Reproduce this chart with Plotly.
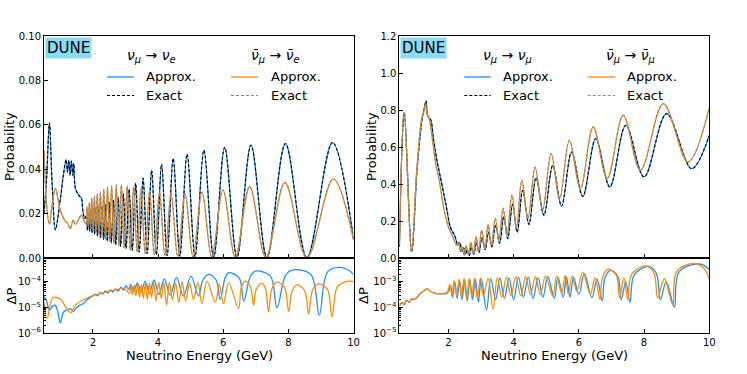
import plotly.graph_objects as go

W, H = 747, 374

# ── Values (energy in GeV) ────────────────────────────────────────────────────

# left panel: P(numu -> nue), neutrino (blue / black dashed)
nue_E = [0.5, 0.58, 0.666, 0.749, 0.85, 1.004, 1.1, 1.179, 1.219, 1.262, 1.30, 1.342,
         1.385, 1.415, 1.465, 1.569, 1.65, 1.69, 1.753, 1.800, 1.832, 1.866, 1.900,
         1.936, 1.974, 2.012, 2.053, 2.095, 2.138, 2.184, 2.231, 2.281, 2.333, 2.387,
         2.444, 2.504, 2.566, 2.632, 2.701, 2.775, 2.851, 2.933, 3.019, 3.111, 3.208,
         3.312, 3.422, 3.541, 3.667, 3.804, 3.949, 4.108, 4.279, 4.466, 4.669, 4.892,
         5.136, 5.408, 5.708, 6.046, 6.423, 6.854, 7.342, 7.911, 8.569, 9.355, 10.0]
nue_P = [0.020, 0.036, 0.0608, 0.0335, 0.0128, 0.0268, 0.038, 0.0443, 0.0387, 0.044,
         0.0373, 0.0437, 0.0373, 0.0425, 0.0313, 0.0282, 0.0268, 0.0215, 0.0177, 0.019,
         0.0125, 0.020, 0.012, 0.021, 0.0113, 0.022, 0.0107, 0.0225, 0.010, 0.023,
         0.0092, 0.0235, 0.0084, 0.024, 0.0076, 0.025, 0.0068, 0.026, 0.006, 0.0275,
         0.0052, 0.029, 0.0043, 0.031, 0.0035, 0.0337, 0.0027, 0.036, 0.002, 0.0395,
         0.0015, 0.0422, 0.0011, 0.0448, 0.0008, 0.0468, 0.0006, 0.0485, 0.0004, 0.0498,
         0.0003, 0.0508, 0.0002, 0.0515, 0.0002, 0.052, 0.0085]

# left panel: antineutrino (orange / grey dashed)
nuebar_E = [0.5, 0.595, 0.666, 0.75, 0.85, 0.973, 1.056, 1.139, 1.24, 1.311, 1.394, 1.465,
            1.548, 1.619, 1.67, 1.72, 1.789, 1.822, 1.856, 1.891, 1.928, 1.966, 2.006,
            2.047, 2.09, 2.135, 2.182, 2.231, 2.282, 2.335, 2.391, 2.45, 2.512, 2.577,
            2.646, 2.718, 2.794, 2.875, 2.96, 3.052, 3.148, 3.251, 3.36, 3.478, 3.604,
            3.74, 3.885, 4.044, 4.214, 4.401, 4.604, 4.829, 5.074, 5.348, 5.65, 5.992,
            6.373, 6.812, 7.31, 7.893, 8.569, 9.38, 10.0]
nuebar_P = [0.0485, 0.0215, 0.0152, 0.024, 0.0313, 0.023, 0.0192, 0.017, 0.0152, 0.0132,
            0.017, 0.0152, 0.017, 0.0188, 0.0192, 0.017, 0.0155, 0.023, 0.0145, 0.025,
            0.0135, 0.027, 0.0125, 0.028, 0.0115, 0.029, 0.0105, 0.030, 0.0095, 0.031,
            0.0085, 0.032, 0.0075, 0.0325, 0.0065, 0.033, 0.0055, 0.033, 0.0045, 0.0325,
            0.0035, 0.032, 0.0027, 0.031, 0.002, 0.030, 0.0015, 0.0295, 0.001, 0.029,
            0.0007, 0.029, 0.0005, 0.0297, 0.0004, 0.0307, 0.0003, 0.0322, 0.0002, 0.034,
            0.0001, 0.0356, 0.008]

# left residual, log10(|dP|)
dnue_E = [0.5, 0.58, 0.667, 0.76, 0.84, 0.93, 1.0, 1.1, 1.2, 1.3, 1.4, 1.5, 1.6, 1.71, 1.8,
          1.9, 2.0, 2.08, 2.15, 2.22, 2.3, 2.38, 2.46, 2.54, 2.62, 2.7, 2.78, 2.86, 2.94,
          3.02, 3.1, 3.16, 3.261, 3.367, 3.482, 3.604, 3.736, 3.876, 4.029, 4.193, 4.373,
          4.566, 4.78, 5.013, 5.24, 5.37, 5.55, 5.78, 5.91, 6.05, 6.16, 6.49, 6.63, 6.83,
          6.99, 7.45, 7.65, 7.91, 8.11, 8.69, 8.95, 9.2, 9.57, 9.85, 10.0]
dnue_log = [-4.57, -4.75, -5.11, -4.95, -4.91, -5.2, -5.61, -5.18, -5.1, -5.05, -5.15, -5.0,
            -4.92, -4.85, -4.72, -4.63, -4.55, -4.48, -4.55, -4.42, -4.48, -4.36, -4.44,
            -4.32, -4.4, -4.28, -4.36, -4.22, -4.32, -4.15, -4.3, -4.1, -4.35, -4.04, -4.4,
            -3.98, -4.45, -3.93, -4.5, -3.89, -4.52, -3.84, -4.55, -3.78, -4.56, -3.95,
            -3.71, -3.92, -4.69, -3.88, -3.65, -3.85, -4.76, -3.8, -3.58, -3.78, -5.02,
            -3.76, -3.54, -3.72, -5.3, -3.62, -3.44, -3.55, -3.72]

dnuebar_E = [0.5, 0.6, 0.77, 1.0, 1.2, 1.33, 1.47, 1.85, 2.25, 2.75, 2.9, 3.0, 3.125, 3.17,
             3.22, 3.27, 3.32, 3.375, 3.43, 3.49, 3.55, 3.61, 3.67, 3.73, 3.8, 3.87, 3.94,
             4.02, 4.1, 4.18, 4.26, 4.35, 4.44, 4.54, 4.64, 4.74, 4.85, 4.97, 5.09, 5.22,
             5.35, 5.5, 5.76, 5.88, 6.01, 6.17, 6.47, 6.56, 6.68, 6.84, 6.93, 7.02, 7.19,
             7.3, 7.39, 7.5, 7.65, 7.88, 8.01, 8.12, 8.27, 8.5, 8.62, 8.75, 8.93, 9.2, 9.34,
             9.5, 9.7, 9.9, 10.0]
dnuebar_log = [-4.8, -5.43, -4.62, -4.68, -5.05, -5.21, -4.9, -4.62, -4.45, -4.3, -4.25,
               -4.3, -4.45, -4.15, -4.5, -4.12, -4.55, -4.1, -4.6, -4.1, -4.65, -4.08, -4.7,
               -4.05, -4.6, -4.05, -4.75, -4.02, -4.65, -4.03, -4.9, -4.02, -4.7, -4.05,
               -4.8, -4.0, -4.75, -4.05, -4.7, -4.02, -4.85, -3.97, -4.8, -4.1, -4.85, -4.04,
               -5.05, -4.2, -3.97, -4.2, -4.9, -4.28, -4.05, -4.28, -5.18, -4.25, -4.01,
               -4.22, -5.15, -4.35, -4.12, -4.35, -5.25, -4.3, -4.08, -4.3, -5.37, -4.2,
               -4.02, -3.97, -4.0]

# right panel: P(numu -> numu)
num_E = [0.5, 0.65, 0.877, 1.04, 1.19, 1.25, 1.316, 1.37, 1.45, 1.55, 1.65, 1.755, 1.89,
         1.96, 2.06, 2.21, 2.29, 2.35, 2.42, 2.47, 2.53, 2.58, 2.64, 2.70, 2.78, 2.86,
         2.94, 3.03, 3.13, 3.23, 3.33, 3.45, 3.57, 3.70, 3.82, 3.97, 4.11, 4.28, 4.47,
         4.69, 4.93, 5.2, 5.47, 5.78, 6.12, 6.52, 6.95, 7.44, 8.0, 8.69, 9.46, 10.0]
num_P = [0.06, 0.784, 0.032, 0.474, 0.744, 0.80, 0.849, 0.766, 0.753, 0.636, 0.528, 0.438,
         0.321, 0.258, 0.168, 0.114, 0.07, 0.085, 0.035, 0.055, 0.02, 0.045, 0.012, 0.06,
         0.02, 0.085, 0.03, 0.11, 0.045, 0.14, 0.06, 0.178, 0.08, 0.225, 0.105, 0.29, 0.14,
         0.366, 0.182, 0.433, 0.231, 0.50, 0.281, 0.573, 0.333, 0.645, 0.384, 0.717, 0.438,
         0.78, 0.483, 0.663]

numbar_E = [0.5, 0.645, 0.87, 1.03, 1.18, 1.25, 1.30, 1.35, 1.42, 1.52, 1.62, 1.72, 1.82,
            1.92, 2.02, 2.15, 2.25, 2.31, 2.37, 2.43, 2.49, 2.55, 2.62, 2.69, 2.77, 2.85,
            2.93, 3.02, 3.12, 3.22, 3.32, 3.44, 3.55, 3.68, 3.80, 3.95, 4.09, 4.25, 4.44,
            4.66, 4.89, 5.15, 5.41, 5.71, 6.05, 6.44, 6.87, 7.36, 7.89, 8.59, 9.35, 10.0]
numbar_P = [0.07, 0.79, 0.035, 0.47, 0.75, 0.79, 0.83, 0.78, 0.75, 0.63, 0.50, 0.42, 0.31,
            0.22, 0.16, 0.11, 0.07, 0.085, 0.035, 0.06, 0.015, 0.065, 0.018, 0.085, 0.025,
            0.115, 0.035, 0.15, 0.05, 0.18, 0.07, 0.215, 0.095, 0.27, 0.125, 0.34, 0.16,
            0.42, 0.213, 0.49, 0.261, 0.564, 0.321, 0.636, 0.375, 0.708, 0.429, 0.771, 0.474,
            0.834, 0.519, 0.813]

# right residual, log10(|dP|)
dnum_E = [0.5, 0.58, 0.65, 0.72, 0.8, 0.88, 0.95, 1.05, 1.15, 1.25, 1.35, 1.45, 1.6, 1.8,
          1.95, 2.02, 2.07, 2.13, 2.2, 2.27, 2.35, 2.42, 2.5, 2.58, 2.66, 2.74, 2.83, 2.92,
          3.01, 3.17, 3.3, 3.45, 3.58, 3.72, 3.86, 4.0, 4.15, 4.3, 4.45, 4.6, 4.75, 4.9,
          5.05, 5.25, 5.36, 5.52, 5.62, 5.73, 5.84, 6.0, 6.17, 6.4, 6.56, 6.72, 6.8, 6.98,
          7.2, 7.3, 7.44, 7.57, 7.7, 8.15, 8.38, 8.5, 8.68, 8.93, 9.07, 9.7, 10.0]
dnum_log = [-3.95, -3.82, -3.9, -3.72, -3.8, -3.65, -3.7, -3.6, -3.45, -3.36, -3.27, -3.38,
            -3.45, -3.47, -3.45, -3.35, -3.15, -3.6, -3.0, -3.65, -2.95, -3.7, -2.92, -3.75,
            -2.9, -3.7, -2.9, -3.8, -2.88, -4.11, -2.88, -3.7, -2.85, -3.65, -2.85, -3.7,
            -2.83, -3.6, -2.82, -3.65, -2.85, -3.6, -2.8, -3.65, -2.82, -3.6, -2.8, -3.6,
            -2.83, -3.5, -2.68, -3.62, -2.9, -3.75, -2.85, -2.55, -2.8, -3.7, -3.0, -3.8,
            -2.72, -2.4, -2.68, -3.7, -3.0, -4.0, -2.62, -2.3, -2.52]

dnumbar_E = [0.5, 0.58, 0.65, 0.72, 0.8, 0.88, 0.95, 1.05, 1.15, 1.25, 1.35, 1.45, 1.6, 1.8,
             1.95, 2.0, 2.05, 2.11, 2.18, 2.25, 2.33, 2.4, 2.48, 2.56, 2.64, 2.72, 2.8, 2.89,
             2.98, 3.07, 3.22, 3.37, 3.5, 3.64, 3.78, 3.92, 4.07, 4.22, 4.37, 4.52, 4.67,
             4.82, 4.98, 5.2, 5.32, 5.47, 5.58, 5.68, 5.79, 5.94, 6.12, 6.35, 6.5, 6.65,
             6.73, 6.9, 7.15, 7.25, 7.38, 7.5, 7.62, 8.05, 8.3, 8.42, 8.62, 8.88, 9.0, 9.55,
             9.85, 10.0]
dnumbar_log = [-3.9, -3.8, -3.88, -3.72, -3.78, -3.66, -3.7, -3.58, -3.44, -3.35, -3.28,
               -3.37, -3.44, -3.46, -3.42, -3.3, -3.1, -3.55, -2.95, -3.55, -2.9, -3.6,
               -2.88, -3.65, -2.88, -3.6, -2.87, -3.65, -2.86, -3.55, -2.88, -4.08, -2.85,
               -3.6, -2.82, -3.55, -2.8, -3.55, -2.8, -3.5, -2.8, -3.5, -2.78, -3.56, -2.78,
               -3.43, -2.75, -3.49, -2.78, -3.36, -2.62, -3.49, -2.84, -3.69, -2.8, -2.51,
               -2.75, -3.63, -2.84, -3.7, -2.7, -2.38, -2.65, -3.63, -2.88, -3.9, -2.6, -2.28,
               -2.5, -2.9]

x_ticks = [2, 4, 6, 8, 10]

BLUE = "#1e8fff"
ORANGE = "#ff8c00"
GREY = "#8a8a8a"
FONT = "DejaVu Sans"


def px(x):
    return x / W


def py(y):
    return 1 - y / H


# ── Figure ────────────────────────────────────────────────────────────────────

fig = go.Figure()


def line(E, vals, color, xa, ya, width=1.3, dash=None):
    fig.add_trace(go.Scatter(
        x=E, y=vals, mode="lines", xaxis=xa, yaxis=ya, hoverinfo="skip",
        line=dict(color=color, width=width, dash=dash, shape="spline", smoothing=1),
    ))


# main panels: approx (solid) with exact (dashed) on top
line(nue_E, nue_P, BLUE, "x", "y")
line(nue_E, nue_P, "black", "x", "y", 1.1, "3px,2px")
line(nuebar_E, nuebar_P, ORANGE, "x", "y")
line(nuebar_E, nuebar_P, GREY, "x", "y", 1.1, "3px,2px")

line(num_E, num_P, BLUE, "x3", "y3")
line(num_E, num_P, "black", "x3", "y3", 1.1, "3px,2px")
line(numbar_E, numbar_P, ORANGE, "x3", "y3")
line(numbar_E, numbar_P, GREY, "x3", "y3", 1.1, "3px,2px")

# residual panels
line(dnue_E, [10 ** v for v in dnue_log], BLUE, "x2", "y2")
line(dnuebar_E, [10 ** v for v in dnuebar_log], ORANGE, "x2", "y2")
line(dnum_E, [10 ** v for v in dnum_log], BLUE, "x4", "y4")
line(dnumbar_E, [10 ** v for v in dnumbar_log], ORANGE, "x4", "y4")

L_DOM = [px(44), px(353.5)]
R_DOM = [px(399.4), px(709.3)]
MAIN_Y = [py(258), py(36)]
RES_Y = [py(333), py(258)]

axis_common = dict(
    showline=True, mirror=True, linecolor="black", linewidth=1,
    ticks="inside", ticklen=4, tickcolor="black", tickwidth=1,
    showgrid=False, zeroline=False, automargin=False,
    tickfont=dict(family=FONT, size=10, color="black"),
)
x_common = dict(axis_common, range=[0.5, 10], tickmode="array", tickvals=x_ticks)
minor_log = dict(ticks="inside", ticklen=2, tickcolor="black", dtick="D1")


def pow_text(e):
    return f"10<sup>\u2212{e}</sup>"


fig.update_layout(
    width=W, height=H, margin=dict(l=0, r=0, t=0, b=0, pad=0, autoexpand=False),
    paper_bgcolor="white", plot_bgcolor="white", showlegend=False,
    font=dict(family=FONT, color="black", size=10),
    xaxis=dict(x_common, domain=L_DOM, anchor="y", showticklabels=False),
    yaxis=dict(axis_common, domain=MAIN_Y, anchor="x", range=[0, 0.1],
               tickvals=[0, 0.02, 0.04, 0.06, 0.08, 0.1],
               ticktext=["0.00", "0.02", "0.04", "0.06", "0.08", "0.10"]),
    xaxis2=dict(x_common, domain=L_DOM, anchor="y2", ticktext=[str(t) for t in x_ticks]),
    yaxis2=dict(axis_common, domain=RES_Y, anchor="x2", type="log", range=[-6, -3.07],
                tickvals=[1e-6, 1e-5, 1e-4], ticktext=[pow_text(6), pow_text(5), pow_text(4)],
                minor=minor_log),
    xaxis3=dict(x_common, domain=R_DOM, anchor="y3", showticklabels=False),
    yaxis3=dict(axis_common, domain=MAIN_Y, anchor="x3", range=[0, 1.2],
                tickvals=[0, 0.2, 0.4, 0.6, 0.8, 1.0, 1.2],
                ticktext=["0.0", "0.2", "0.4", "0.6", "0.8", "1.0", "1.2"]),
    xaxis4=dict(x_common, domain=R_DOM, anchor="y4", ticktext=[str(t) for t in x_ticks]),
    yaxis4=dict(axis_common, domain=RES_Y, anchor="x4", type="log", range=[-5, -2.07],
                tickvals=[1e-5, 1e-4, 1e-3], ticktext=[pow_text(5), pow_text(4), pow_text(3)],
                minor=minor_log),
)

# ── Text: axis titles, DUNE tags, hand-made legends ───────────────────────────

ann = []


def text(x, y, s, size=13, angle=0, xanchor="center", **kw):
    ann.append(dict(xref="paper", yref="paper", x=px(x), y=py(y), text=s, showarrow=False,
                    textangle=angle, xanchor=xanchor, yanchor="middle",
                    font=dict(family=FONT, size=size, color="black"), **kw))


text(9, 147, "Probability", angle=-90)
text(10.5, 296, "\u0394P", angle=-90)
text(371, 147, "Probability", angle=-90)
text(363, 296, "\u0394P", angle=-90)
text(199, 355, "Neutrino Energy (GeV)")
text(554, 355, "Neutrino Energy (GeV)")

for x0 in (44.5, 400):
    ann.append(dict(xref="paper", yref="paper", x=px(x0), y=py(36.5), text="DUNE",
                    showarrow=False, xanchor="left", yanchor="top", bgcolor="#89dcf5",
                    borderpad=1, font=dict(family=FONT, size=15, color="black")))

NU = "<i>\u03bd</i>"
NUB = "<i>\u03bd\u0304</i>"


def sub(s):
    return f"<sub><i>{s}</i></sub>"


legends = [
    # (title centre x, line x0, line x1, text x, title, solid colour, dashed colour)
    (151, 107, 134, 144, f"{NU}{sub('μ')} \u2192 {NU}{sub('e')}", BLUE, "black"),
    (275, 231, 258, 268.7, f"{NUB}{sub('μ')} \u2192 {NUB}{sub('e')}", ORANGE, GREY),
    (507.7, 464.3, 490.7, 500.7, f"{NU}{sub('μ')} \u2192 {NU}{sub('μ')}", BLUE, "black"),
    (630.7, 587.7, 615, 625, f"{NUB}{sub('μ')} \u2192 {NUB}{sub('μ')}", ORANGE, GREY),
]

shapes = []
for cx, lx0, lx1, tx, title, solid, dashed in legends:
    text(cx, 56, title, size=14)
    text(tx, 77, "Approx.", xanchor="left")
    text(tx, 95.5, "Exact", xanchor="left")
    shapes.append(dict(type="line", xref="paper", yref="paper", x0=px(lx0), x1=px(lx1),
                       y0=py(77), y1=py(77), line=dict(color=solid, width=1.3)))
    shapes.append(dict(type="line", xref="paper", yref="paper", x0=px(lx0), x1=px(lx1),
                       y0=py(95.5), y1=py(95.5),
                       line=dict(color=dashed, width=1.1, dash="3px,2px")))

fig.update_layout(annotations=ann, shapes=shapes)

# the page's default 8px body margin would shift the whole figure
fig.write_html("out.html",
               config={"displayModeBar": False},
               post_script="document.body.style.margin='0';"
                           "document.body.style.overflow='hidden';")
